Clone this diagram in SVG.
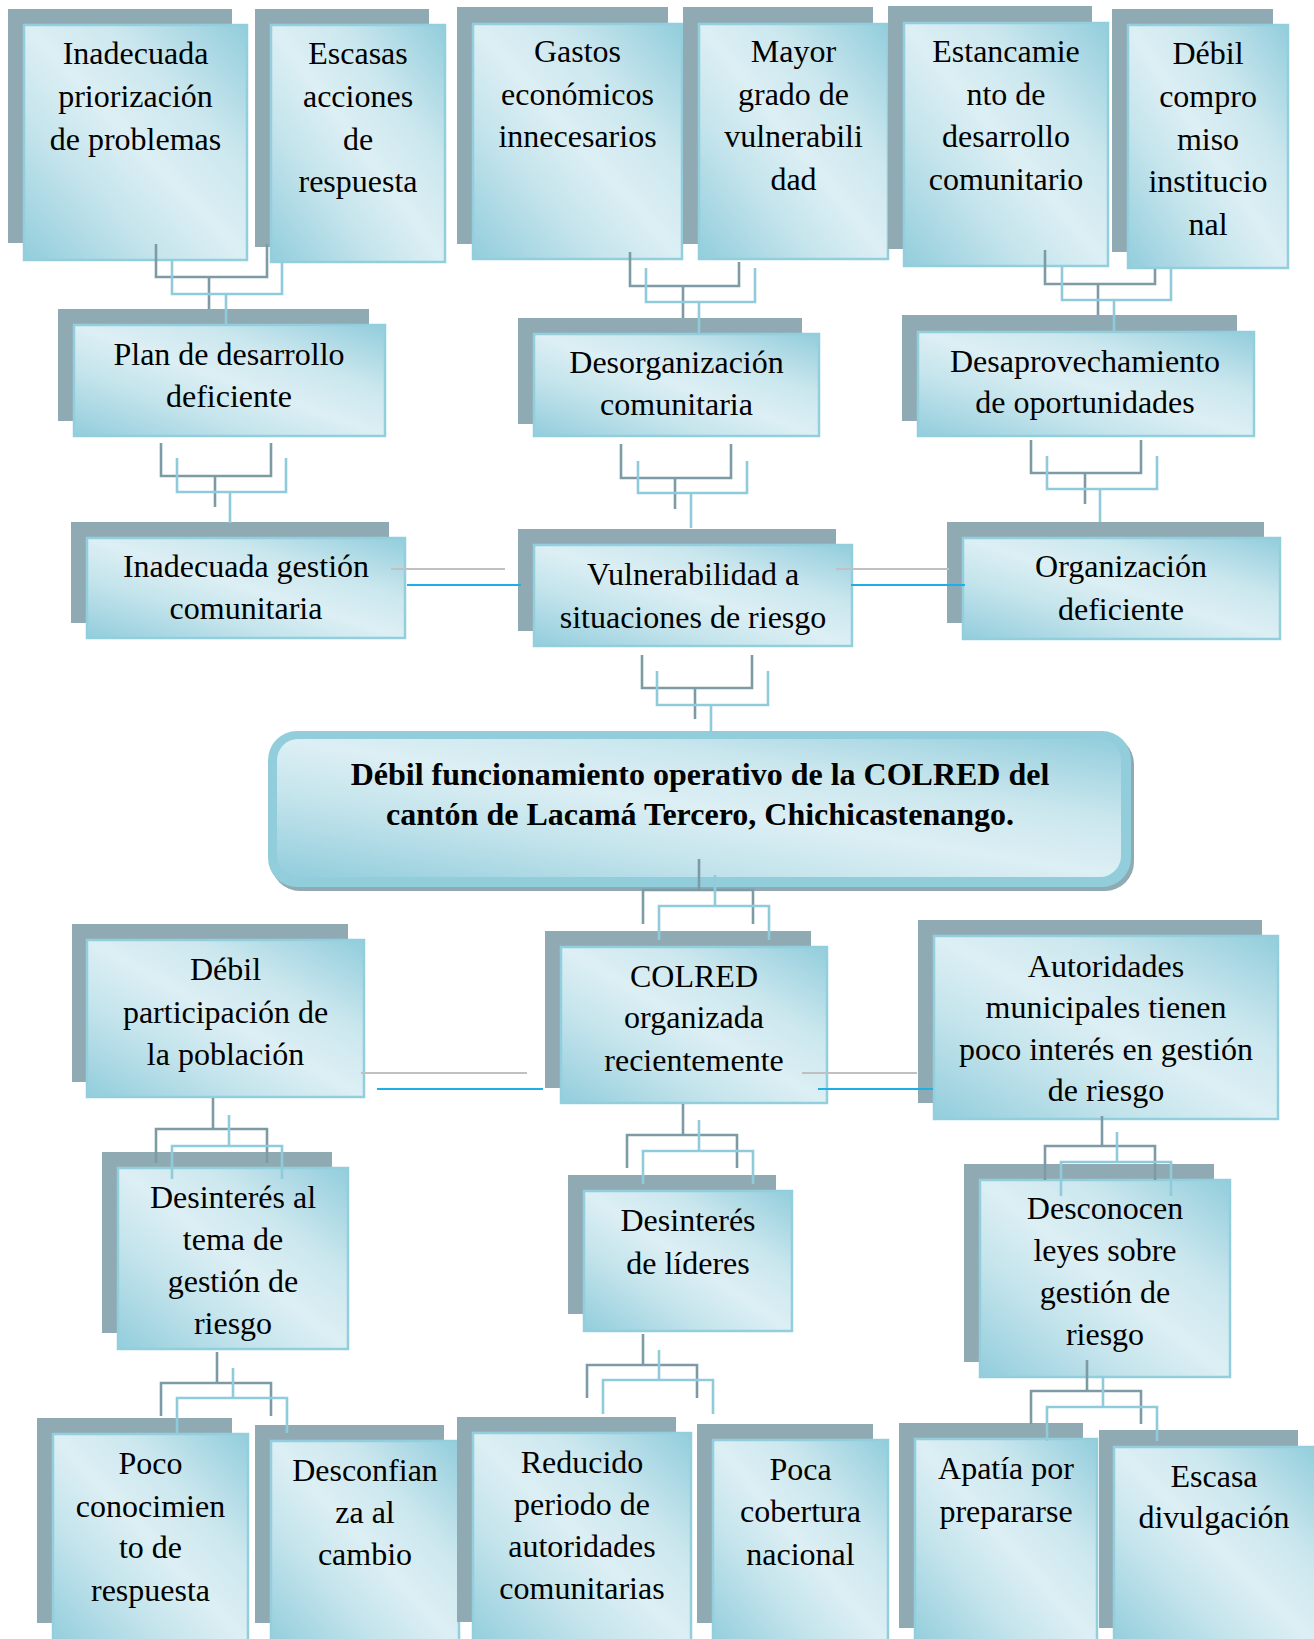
<svg xmlns="http://www.w3.org/2000/svg" width="1314" height="1639" viewBox="0 0 1314 1639">
<defs>
<linearGradient id="gf" x1="0" y1="1" x2="1" y2="0">
<stop offset="0" stop-color="#92CDDC"/>
<stop offset="0.3" stop-color="#C4E4EC"/>
<stop offset="0.5" stop-color="#DCEFF4"/>
<stop offset="0.7" stop-color="#CBE7EE"/>
<stop offset="1" stop-color="#92CDDC"/>
</linearGradient>
<style>
.sh{fill:#8FAAB2}
.fr{fill:url(#gf);stroke:#93CEDD;stroke-width:2.5}
.t{font-family:"Liberation Serif","Times New Roman",serif;font-size:32px;fill:#000;text-anchor:middle}
.tb{font-family:"Liberation Serif","Times New Roman",serif;font-size:32px;font-weight:bold;fill:#000;text-anchor:middle}
.cd{fill:none;stroke:#7D9BA5;stroke-width:2.6}
.cl{fill:none;stroke:#8FCBDB;stroke-width:2.6}
.lg{fill:none;stroke:#C0C0C0;stroke-width:2}
.lb{fill:none;stroke:#1EAFE6;stroke-width:2}
</style>
</defs>
<rect width="1314" height="1639" fill="#FFFFFF"/>

<g id="n1"><rect class="sh" x="8" y="9" width="224" height="234"/><rect class="fr" x="24" y="25" width="223" height="235"/>
<text class="t"><tspan x="135.5" y="64">Inadecuada</tspan><tspan x="135.5" y="107">priorización</tspan><tspan x="135.5" y="150">de problemas</tspan></text></g>
<g id="n2"><rect class="sh" x="255" y="9" width="174" height="238"/><rect class="fr" x="271" y="25" width="174" height="237"/>
<text class="t"><tspan x="358" y="64">Escasas</tspan><tspan x="358" y="107">acciones</tspan><tspan x="358" y="150">de</tspan><tspan x="358" y="192">respuesta</tspan></text></g>
<g id="n3"><rect class="sh" x="457" y="7" width="211" height="237"/><rect class="fr" x="473" y="24" width="209" height="235"/>
<text class="t"><tspan x="577.5" y="62">Gastos</tspan><tspan x="577.5" y="105">económicos</tspan><tspan x="577.5" y="147">innecesarios</tspan></text></g>
<g id="n4"><rect class="sh" x="683" y="7" width="190" height="237"/><rect class="fr" x="699" y="24" width="189" height="235"/>
<text class="t"><tspan x="793.5" y="62">Mayor</tspan><tspan x="793.5" y="105">grado de</tspan><tspan x="793.5" y="147">vulnerabili</tspan><tspan x="793.5" y="190">dad</tspan></text></g>
<g id="n5"><rect class="sh" x="888" y="6" width="204" height="243"/><rect class="fr" x="904" y="23" width="204" height="243"/>
<text class="t"><tspan x="1006" y="62">Estancamie</tspan><tspan x="1006" y="105">nto de</tspan><tspan x="1006" y="147">desarrollo</tspan><tspan x="1006" y="190">comunitario</tspan></text></g>
<g id="n6"><rect class="sh" x="1112" y="9" width="161" height="243"/><rect class="fr" x="1128" y="25" width="160" height="243"/>
<text class="t"><tspan x="1208" y="64">Débil</tspan><tspan x="1208" y="107">compro</tspan><tspan x="1208" y="150">miso</tspan><tspan x="1208" y="192">institucio</tspan><tspan x="1208" y="235">nal</tspan></text></g>

<g id="n7"><rect class="sh" x="58" y="309" width="311" height="112"/><rect class="fr" x="74" y="325" width="311" height="111"/>
<text class="t"><tspan x="229" y="365">Plan de desarrollo</tspan><tspan x="229" y="407">deficiente</tspan></text></g>
<g id="n8"><rect class="sh" x="518" y="318" width="284" height="106"/><rect class="fr" x="534" y="334" width="285" height="102"/>
<text class="t"><tspan x="676.5" y="373">Desorganización</tspan><tspan x="676.5" y="415">comunitaria</tspan></text></g>
<g id="n9"><rect class="sh" x="902" y="315" width="335" height="106"/><rect class="fr" x="918" y="332" width="336" height="104"/>
<text class="t"><tspan x="1085" y="372">Desaprovechamiento</tspan><tspan x="1085" y="413">de oportunidades</tspan></text></g>

<g id="n10"><rect class="sh" x="71" y="522" width="318" height="101"/><rect class="fr" x="87" y="538" width="318" height="100"/>
<text class="t"><tspan x="246" y="577">Inadecuada gestión</tspan><tspan x="246" y="619">comunitaria</tspan></text></g>
<g id="n11"><rect class="sh" x="518" y="529" width="318" height="102"/><rect class="fr" x="534" y="545" width="318" height="101"/>
<text class="t"><tspan x="693" y="585">Vulnerabilidad a</tspan><tspan x="693" y="628">situaciones de riesgo</tspan></text></g>
<g id="n12"><rect class="sh" x="947" y="522" width="317" height="101"/><rect class="fr" x="963" y="538" width="317" height="101"/>
<text class="t"><tspan x="1121" y="577">Organización</tspan><tspan x="1121" y="620">deficiente</tspan></text></g>

<g id="n13">
<rect x="271" y="735" width="863" height="156" rx="29" fill="#8FAAB2"/>
<rect x="268" y="731" width="863" height="156" rx="29" fill="#92CDDC"/>
<rect x="277" y="739" width="844" height="138" rx="21" fill="url(#gf)"/>
<text class="tb"><tspan x="700" y="785">Débil funcionamiento operativo de la COLRED del</tspan><tspan x="700" y="825">cantón de Lacamá Tercero, Chichicastenango.</tspan></text></g>

<g id="n14"><rect class="sh" x="72" y="924" width="276" height="158"/><rect class="fr" x="87" y="940" width="277" height="157"/>
<text class="t"><tspan x="225.5" y="980">Débil</tspan><tspan x="225.5" y="1023">participación de</tspan><tspan x="225.5" y="1065">la población</tspan></text></g>
<g id="n15"><rect class="sh" x="545" y="931" width="266" height="157"/><rect class="fr" x="561" y="947" width="266" height="156"/>
<text class="t"><tspan x="694" y="987">COLRED</tspan><tspan x="694" y="1028">organizada</tspan><tspan x="694" y="1071">recientemente</tspan></text></g>
<g id="n16"><rect class="sh" x="918" y="920" width="344" height="183"/><rect class="fr" x="934" y="936" width="344" height="183"/>
<text class="t"><tspan x="1106" y="977">Autoridades</tspan><tspan x="1106" y="1018">municipales tienen</tspan><tspan x="1106" y="1060">poco interés en gestión</tspan><tspan x="1106" y="1101">de riesgo</tspan></text></g>

<g id="n17"><rect class="sh" x="102" y="1152" width="230" height="181"/><rect class="fr" x="118" y="1168" width="230" height="181"/>
<text class="t"><tspan x="233" y="1208">Desinterés al</tspan><tspan x="233" y="1250">tema de</tspan><tspan x="233" y="1292">gestión de</tspan><tspan x="233" y="1334">riesgo</tspan></text></g>
<g id="n18"><rect class="sh" x="568" y="1175" width="208" height="139"/><rect class="fr" x="584" y="1191" width="208" height="140"/>
<text class="t"><tspan x="688" y="1231">Desinterés</tspan><tspan x="688" y="1274">de líderes</tspan></text></g>
<g id="n19"><rect class="sh" x="964" y="1164" width="250" height="198"/><rect class="fr" x="980" y="1180" width="250" height="197"/>
<text class="t"><tspan x="1105" y="1219">Desconocen</tspan><tspan x="1105" y="1261">leyes sobre</tspan><tspan x="1105" y="1303">gestión de</tspan><tspan x="1105" y="1345">riesgo</tspan></text></g>

<g id="n20"><rect class="sh" x="37" y="1418" width="195" height="205"/><rect class="fr" x="53" y="1434" width="195" height="212"/>
<text class="t"><tspan x="150.5" y="1474">Poco</tspan><tspan x="150.5" y="1517">conocimien</tspan><tspan x="150.5" y="1558">to de</tspan><tspan x="150.5" y="1601">respuesta</tspan></text></g>
<g id="n21"><rect class="sh" x="255" y="1425" width="189" height="198"/><rect class="fr" x="271" y="1441" width="188" height="205"/>
<text class="t"><tspan x="365" y="1481">Desconfian</tspan><tspan x="365" y="1523">za al</tspan><tspan x="365" y="1565">cambio</tspan></text></g>
<g id="n22"><rect class="sh" x="457" y="1417" width="219" height="205"/><rect class="fr" x="473" y="1433" width="218" height="213"/>
<text class="t"><tspan x="582" y="1473">Reducido</tspan><tspan x="582" y="1515">periodo de</tspan><tspan x="582" y="1557">autoridades</tspan><tspan x="582" y="1599">comunitarias</tspan></text></g>
<g id="n23"><rect class="sh" x="697" y="1424" width="176" height="199"/><rect class="fr" x="713" y="1440" width="175" height="206"/>
<text class="t"><tspan x="800.5" y="1480">Poca</tspan><tspan x="800.5" y="1522">cobertura</tspan><tspan x="800.5" y="1565">nacional</tspan></text></g>
<g id="n24"><rect class="sh" x="899" y="1423" width="184" height="205"/><rect class="fr" x="915" y="1439" width="182" height="207"/>
<text class="t"><tspan x="1006" y="1479">Apatía por</tspan><tspan x="1006" y="1522">prepararse</tspan></text></g>
<g id="n25"><rect class="sh" x="1099" y="1430" width="199" height="198"/><rect class="fr" x="1114" y="1447" width="203" height="199"/>
<text class="t"><tspan x="1214" y="1487">Escasa</tspan><tspan x="1214" y="1528">divulgación</tspan></text></g>

<g id="connectors">
<path class="cd" d="M156,244 V277 H267 V244 M209,277 V309"/>
<path class="cl" d="M172,261 V294 H282 V263 M226,294 V325"/>
<path class="cd" d="M630,252 V286 H739 V262 M683,286 V318"/>
<path class="cl" d="M646,268 V302 H755 V268 M699,302 V334"/>
<path class="cd" d="M1045,250 V284 H1155 V269 M1098,284 V315"/>
<path class="cl" d="M1062,267 V300 H1171 V269 M1114,300 V332"/>

<path class="cd" d="M161,443 V476 H271 V443 M215,476 V507"/>
<path class="cl" d="M177,458 V492 H286 V458 M230,492 V523"/>
<path class="cd" d="M621,444 V478 H731 V444 M675,478 V509"/>
<path class="cl" d="M638,461 V493 H747 V461 M691,493 V528"/>
<path class="cd" d="M1031,440 V473 H1141 V440 M1085,473 V504"/>
<path class="cl" d="M1047,456 V489 H1157 V456 M1100,489 V522"/>

<path class="lg" d="M391,569 H505 M836,569 H949"/>
<path class="lb" d="M407,585 H521 M851,585 H965"/>

<path class="cd" d="M642,655 V688 H752 V655 M695,688 V719"/>
<path class="cl" d="M657,671 V705 H768 V671 M711,705 V732"/>

<path class="cd" d="M699,859 V890 M643,924 V890 H753 V924"/>
<path class="cl" d="M715,875 V906 M659,940 V906 H769 V940"/>

<path class="lg" d="M361,1073 H527 M802,1073 H917"/>
<path class="lb" d="M377,1089 H543 M818,1089 H933"/>

<path class="cd" d="M213,1098 V1129 M156,1163 V1129 H267 V1163"/>
<path class="cl" d="M229,1115 V1146 M172,1179 V1146 H282 V1179"/>
<path class="cd" d="M683,1104 V1135 M627,1168 V1135 H737 V1168"/>
<path class="cl" d="M699,1120 V1151 M643,1184 V1151 H753 V1184"/>
<path class="cd" d="M1102,1116 V1146 M1045,1180 V1146 H1155 V1180"/>
<path class="cl" d="M1117,1132 V1162 M1061,1196 V1162 H1171 V1196"/>

<path class="cd" d="M217,1352 V1383 M161,1416 V1383 H271 V1416"/>
<path class="cl" d="M233,1368 V1398 M177,1433 V1398 H287 V1433"/>
<path class="cd" d="M643,1334 V1365 M587,1398 V1365 H697 V1398"/>
<path class="cl" d="M659,1350 V1380 M603,1414 V1380 H713 V1414"/>
<path class="cd" d="M1087,1360 V1391 M1031,1424 V1391 H1141 V1424"/>
<path class="cl" d="M1103,1376 V1407 M1047,1441 V1407 H1157 V1441"/>
</g>
</svg>
